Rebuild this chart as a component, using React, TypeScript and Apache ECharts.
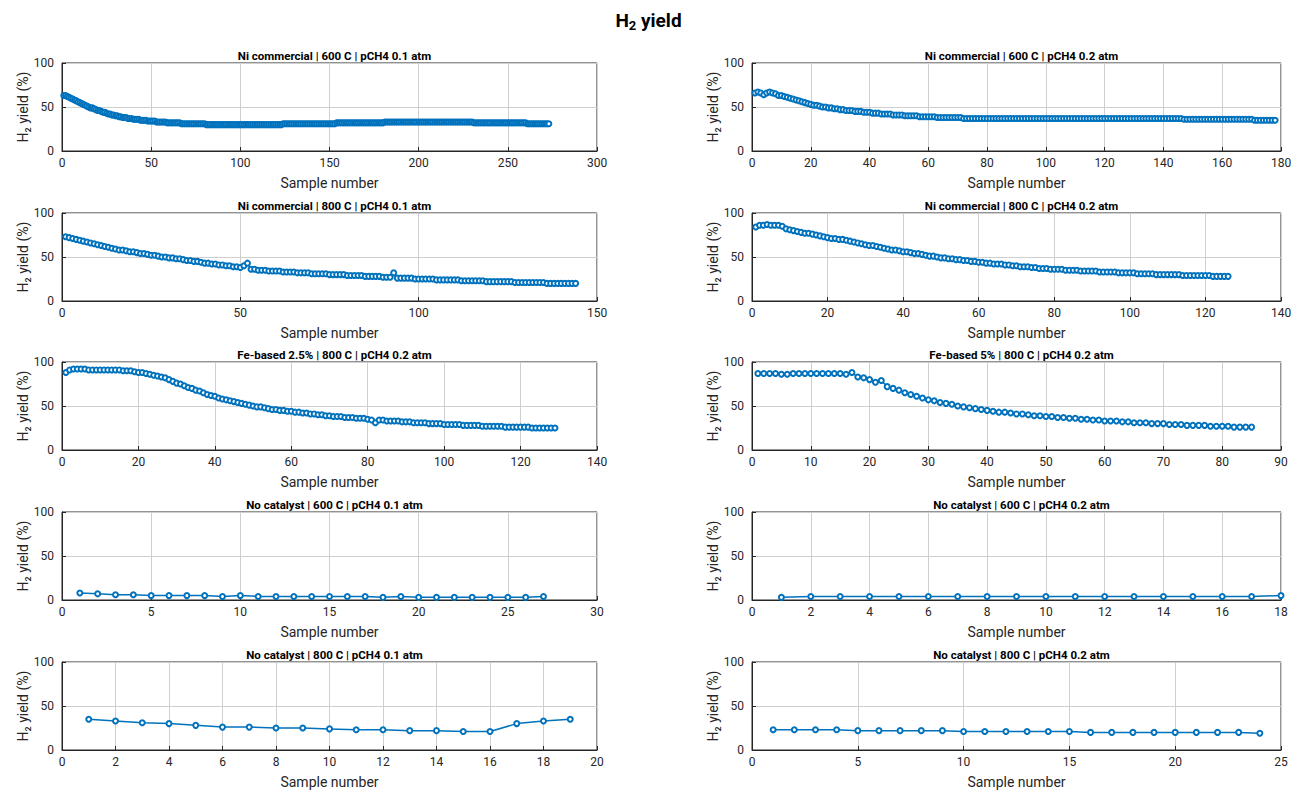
import * as echarts from "echarts";
import { useEffect, useRef } from "react";

// H2 yield per sample for each experiment (sample number = index + 1)
const niC600p01 = [
  63, 63, 62, 61, 60, 59, 58, 57, 56, 55, 54, 53, 52, 51, 50, 49, 49, 48, 47, 46,
  46, 45, 44, 44, 43, 42, 42, 41, 41, 40, 40, 39, 39, 38, 38, 38, 37, 37, 37, 36,
  36, 36, 36, 35, 35, 35, 35, 34, 34, 34, 34, 34, 33, 33, 33, 33, 33, 33, 32, 32,
  32, 32, 32, 32, 32, 32, 31, 31, 31, 31, 31, 31, 31, 31, 31, 31, 31, 31, 31, 31,
  30, 30, 30, 30, 30, 30, 30, 30, 30, 30, 30, 30, 30, 30, 30, 30, 30, 30, 30, 30,
  30, 30, 30, 30, 30, 30, 30, 30, 30, 30, 30, 30, 30, 30, 30, 30, 30, 30, 30, 30,
  30, 30, 30, 31, 31, 31, 31, 31, 31, 31, 31, 31, 31, 31, 31, 31, 31, 31, 31, 31,
  31, 31, 31, 31, 31, 31, 31, 31, 31, 31, 31, 31, 31, 32, 32, 32, 32, 32, 32, 32,
  32, 32, 32, 32, 32, 32, 32, 32, 32, 32, 32, 32, 32, 32, 32, 32, 32, 32, 32, 32,
  33, 33, 33, 33, 33, 33, 33, 33, 33, 33, 33, 33, 33, 33, 33, 33, 33, 33, 33, 33,
  33, 33, 33, 33, 33, 33, 33, 33, 33, 33, 33, 33, 33, 33, 33, 33, 33, 33, 33, 33,
  33, 33, 33, 33, 33, 33, 33, 33, 33, 33, 32, 32, 32, 32, 32, 32, 32, 32, 32, 32,
  32, 32, 32, 32, 32, 32, 32, 32, 32, 32, 32, 32, 32, 32, 32, 32, 32, 32, 32, 32,
  31, 31, 31, 31, 31, 31, 31, 31, 31, 31, 31, 31, 31,
];
const niC600p02 = [
  66, 67, 66, 64, 66, 67, 66, 65, 63, 63, 62, 61, 60, 59, 58, 57, 56, 55, 54, 53,
  52, 52, 51, 50, 50, 49, 49, 48, 48, 47, 47, 46, 46, 46, 45, 45, 45, 44, 44, 44,
  43, 43, 43, 42, 42, 42, 42, 41, 41, 41, 41, 40, 40, 40, 40, 40, 39, 39, 39, 39,
  39, 39, 38, 38, 38, 38, 38, 38, 38, 38, 38, 37, 37, 37, 37, 37, 37, 37, 37, 37,
  37, 37, 37, 37, 37, 37, 37, 37, 37, 37, 37, 37, 37, 37, 37, 37, 37, 37, 37, 37,
  37, 37, 37, 37, 37, 37, 37, 37, 37, 37, 37, 37, 37, 37, 37, 37, 37, 37, 37, 37,
  37, 37, 37, 37, 37, 37, 37, 37, 37, 37, 37, 37, 37, 37, 37, 37, 37, 37, 37, 37,
  37, 37, 37, 37, 37, 37, 36, 36, 36, 36, 36, 36, 36, 36, 36, 36, 36, 36, 36, 36,
  36, 36, 36, 36, 36, 36, 36, 36, 36, 36, 35, 35, 35, 35, 35, 35, 35, 35,
];
const niC800p01 = [
  73, 72, 71, 70, 69, 68, 67, 66, 65, 64, 63, 62, 61, 60, 59, 58, 58, 57, 56, 56,
  55, 54, 54, 53, 52, 52, 51, 50, 50, 49, 49, 48, 48, 47, 46, 46, 45, 45, 44, 43,
  43, 42, 42, 41, 41, 40, 40, 39, 39, 38, 40, 43, 36, 36, 35, 35, 35, 34, 34, 34,
  34, 33, 33, 33, 33, 32, 32, 32, 32, 31, 31, 31, 31, 31, 30, 30, 30, 30, 30, 29,
  29, 29, 29, 29, 28, 28, 28, 28, 28, 27, 27, 27, 32, 26, 26, 26, 26, 26, 25, 25,
  25, 25, 25, 25, 24, 24, 24, 24, 24, 24, 24, 23, 23, 23, 23, 23, 23, 23, 22, 22,
  22, 22, 22, 22, 22, 22, 21, 21, 21, 21, 21, 21, 21, 21, 21, 20, 20, 20, 20, 20,
  20, 20, 20, 20,
];
const niC800p02 = [
  84, 86, 86, 87, 86, 86, 86, 85, 82, 81, 80, 79, 78, 77, 77, 76, 75, 74, 73, 72,
  71, 71, 70, 70, 69, 68, 67, 66, 65, 64, 63, 63, 62, 61, 60, 59, 58, 58, 57, 56,
  56, 55, 54, 54, 53, 52, 51, 51, 50, 49, 49, 48, 48, 47, 47, 46, 46, 45, 45, 44,
  44, 43, 43, 42, 42, 42, 41, 41, 40, 40, 39, 39, 39, 38, 38, 37, 37, 37, 36, 36,
  36, 36, 35, 35, 35, 35, 34, 34, 34, 34, 34, 33, 33, 33, 33, 33, 32, 32, 32, 32,
  32, 31, 31, 31, 31, 31, 30, 30, 30, 30, 30, 30, 30, 29, 29, 29, 29, 29, 29, 29,
  29, 28, 28, 28, 28, 28,
];
const fe25 = [
  88, 91, 92, 92, 92, 92, 91, 91, 91, 91, 91, 91, 91, 91, 91, 90, 90, 90, 89, 88,
  88, 87, 86, 85, 84, 83, 82, 80, 78, 76, 75, 73, 71, 70, 68, 67, 65, 63, 62, 61,
  59, 58, 57, 56, 55, 54, 53, 52, 51, 50, 49, 49, 48, 47, 46, 46, 45, 45, 44, 44,
  43, 43, 42, 42, 41, 41, 40, 40, 39, 39, 38, 38, 38, 37, 37, 37, 36, 36, 36, 35,
  34, 31, 34, 34, 33, 33, 33, 33, 32, 32, 32, 31, 31, 31, 31, 30, 30, 30, 30, 29,
  29, 29, 29, 29, 28, 28, 28, 28, 28, 27, 27, 27, 27, 27, 27, 26, 26, 26, 26, 26,
  26, 26, 25, 25, 25, 25, 25, 25, 25,
];
const fe5 = [
  87, 87, 87, 87, 86, 86, 87, 87, 87, 87, 87, 87, 87, 87, 87, 86, 88, 83, 82, 80,
  77, 79, 72, 70, 68, 65, 63, 61, 59, 57, 56, 54, 53, 52, 50, 49, 48, 47, 46, 45,
  44, 43, 43, 42, 41, 41, 40, 39, 39, 38, 38, 37, 37, 36, 36, 35, 35, 34, 34, 33,
  33, 33, 32, 32, 31, 31, 31, 30, 30, 30, 29, 29, 29, 28, 28, 28, 28, 27, 27, 27,
  27, 26, 26, 26, 26,
];
const none600p01 = [8, 7, 6, 6, 5, 5, 5, 5, 4, 5, 4, 4, 4, 4, 4, 4, 4, 3, 4, 3, 3, 3, 3, 3, 3, 3, 4];
const none600p02 = [3, 4, 4, 4, 4, 4, 4, 4, 4, 4, 4, 4, 4, 4, 4, 4, 4, 5];
const none800p01 = [35, 33, 31, 30, 28, 26, 26, 25, 25, 24, 23, 23, 22, 22, 21, 21, 30, 33, 35];
const none800p02 = [23, 23, 23, 23, 22, 22, 22, 22, 22, 21, 21, 21, 21, 21, 21, 20, 20, 20, 20, 20, 20, 20, 20, 19];

const panels = [
  { title: "Ni commercial | 600 C | pCH4 0.1 atm", data: niC600p01, xMax: 300, xStep: 50 },
  { title: "Ni commercial | 600 C | pCH4 0.2 atm", data: niC600p02, xMax: 180, xStep: 20 },
  { title: "Ni commercial | 800 C | pCH4 0.1 atm", data: niC800p01, xMax: 150, xStep: 50 },
  { title: "Ni commercial | 800 C | pCH4 0.2 atm", data: niC800p02, xMax: 140, xStep: 20 },
  { title: "Fe-based 2.5% | 800 C | pCH4 0.2 atm", data: fe25, xMax: 140, xStep: 20 },
  { title: "Fe-based 5% | 800 C | pCH4 0.2 atm", data: fe5, xMax: 90, xStep: 10 },
  { title: "No catalyst | 600 C | pCH4 0.1 atm", data: none600p01, xMax: 30, xStep: 5 },
  { title: "No catalyst | 600 C | pCH4 0.2 atm", data: none600p02, xMax: 18, xStep: 2 },
  { title: "No catalyst | 800 C | pCH4 0.1 atm", data: none800p01, xMax: 20, xStep: 2 },
  { title: "No catalyst | 800 C | pCH4 0.2 atm", data: none800p02, xMax: 25, xStep: 5 },
];

const COLOR = "#0072BD";
const TEXT = "#262626";
const colLeft = [62, 752];
const colWidth = [535, 529];
const rowTop = [63, 213, 362, 512, 662];
const plotH = 88;

export default function App() {
  const ref = useRef<HTMLDivElement>(null);
  useEffect(() => {
    document.body.style.margin = "0";
    if (!ref.current) return;
    const chart = echarts.init(ref.current, null, { renderer: "svg" });
    const grids: any[] = [];
    const xAxes: any[] = [];
    const yAxes: any[] = [];
    const series: any[] = [];
    const titles: any[] = [
      {
        text: "{a|H}{b|2}{a| yield}",
        left: "center",
        top: 4,
        textStyle: {
          rich: {
            a: { fontSize: 19, fontWeight: "bold", color: "#000", fontFamily: "Roboto" },
            b: { fontSize: 13, fontWeight: "bold", color: "#000", fontFamily: "Roboto", verticalAlign: "bottom", padding: [10, 0, 0, 0] },
          },
        },
      },
    ];
    panels.forEach((p, i) => {
      const col = i % 2;
      const row = Math.floor(i / 2);
      const left = colLeft[col];
      const width = colWidth[col];
      const top = rowTop[row];
      grids.push({ left, top, width, height: plotH, show: true, borderColor: TEXT, borderWidth: 1 });
      titles.push({
        text: p.title,
        left: left + width / 2,
        top: top - 18,
        textAlign: "center",
        textStyle: { fontSize: 11.5, fontWeight: "bold", color: "#000", fontFamily: "Roboto" },
      });
      const axisCommon = {
        axisLine: { show: true, lineStyle: { color: TEXT } },
        axisTick: { show: true, inside: true, length: 4, lineStyle: { color: TEXT } },
        axisLabel: { color: TEXT, fontSize: 12, fontFamily: "Roboto" },
        splitLine: { show: true, lineStyle: { color: "#cfcfcf" } },
        nameTextStyle: { color: TEXT, fontSize: 14, fontFamily: "Roboto" },
      };
      xAxes.push({
        ...axisCommon,
        gridIndex: i,
        type: "value",
        min: 0,
        max: p.xMax,
        interval: p.xStep,
        name: "Sample number",
        nameLocation: "middle",
        nameGap: 25,
        axisLabel: { ...axisCommon.axisLabel, margin: 6 },
      });
      yAxes.push({
        ...axisCommon,
        gridIndex: i,
        type: "value",
        min: 0,
        max: 100,
        interval: 50,
        name: "H\u2082 yield (%)",
        nameLocation: "middle",
        nameGap: 32,
      });
      series.push({
        type: "line",
        xAxisIndex: i,
        yAxisIndex: i,
        data: p.data.map((v, k) => [k + 1, v]),
        symbol: "emptyCircle",
        symbolSize: 5,
        itemStyle: { color: COLOR, borderWidth: 1.7 },
        lineStyle: { color: COLOR, width: 1.5 },
      });
    });
    chart.setOption({
      animation: false,
      backgroundColor: "#fff",
      title: titles,
      grid: grids,
      xAxis: xAxes,
      yAxis: yAxes,
      series,
    });
    return () => chart.dispose();
  }, []);
  return <div ref={ref} style={{ width: 1297, height: 798 }} />;
}
